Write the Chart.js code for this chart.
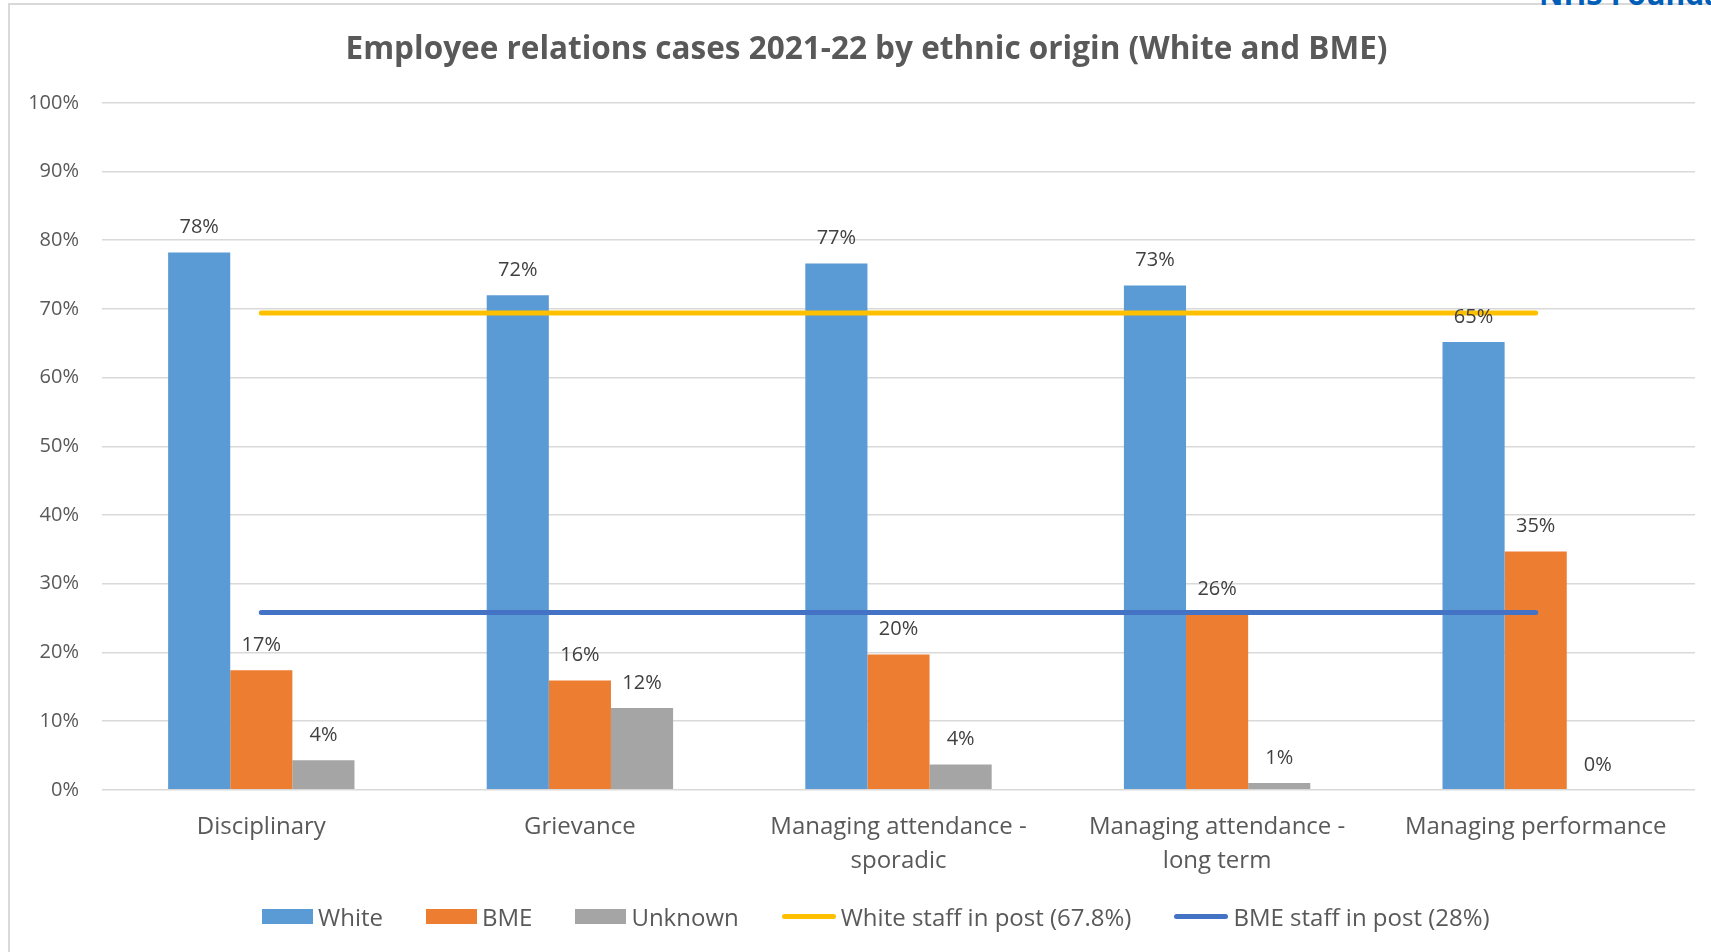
<!DOCTYPE html>
<html>
<head>
<meta charset="utf-8">
<script src="https://cdn.jsdelivr.net/npm/chart.js@4.4.0/dist/chart.umd.min.js"></script>
<style>
html,body{margin:0;padding:0;background:#fff;width:1711px;height:952px;overflow:hidden;font-family:"Open Sans",sans-serif;}
#frame{position:absolute;left:8px;top:3px;width:1760px;height:1000px;border-left:2px solid #D9D9D9;border-top:2px solid #D9D9D9;box-sizing:border-box;}
#brand{position:absolute;left:1539px;top:-27px;font-weight:bold;font-size:30px;color:#005EB8;white-space:nowrap;}
#wrap{position:absolute;left:0;top:0;width:1711px;height:952px;}
#legend{position:absolute;left:262px;top:900px;height:32px;display:flex;align-items:center;color:#595959;font-size:24px;white-space:nowrap;}
#legend .item{display:flex;align-items:center;margin-right:43px;}
#legend .sw{margin-right:5px;}
</style>
</head>
<body>
<div id="frame"></div>
<div id="brand">NHS Foundation Trust</div>
<div id="wrap"><canvas id="c"></canvas></div>
<div id="legend"></div>
<script>
const categories = ['Disciplinary', 'Grievance', ['Managing attendance -', 'sporadic'], ['Managing attendance -', 'long term'], 'Managing performance'];
const whiteValues = [78.2, 72.0, 76.6, 73.4, 65.2];
const bmeValues = [17.4, 15.9, 19.7, 25.5, 34.7];
const unknownValues = [4.3, 11.9, 3.7, 1.0, 0];
const whiteStaffInPost = [69.4, 69.4, 69.4, 69.4, 69.4];
const bmeStaffInPost = [25.8, 25.8, 25.8, 25.8, 25.8];
const seriesNames = ['White', 'BME', 'Unknown', 'White staff in post (67.8%)', 'BME staff in post (28%)'];
const yMin = 0, yMax = 100, yStep = 10;

const valueLabels = {
  id: 'valueLabels',
  afterDatasetsDraw(chart) {
    const ctx = chart.ctx;
    ctx.save();
    ctx.font = '20px "Open Sans"';
    ctx.fillStyle = '#404040';
    ctx.textAlign = 'center';
    ctx.textBaseline = 'middle';
    chart.data.datasets.forEach((ds, i) => {
      if (ds.type === 'line') return;
      const meta = chart.getDatasetMeta(i);
      meta.data.forEach((bar, j) => {
        ctx.fillText(Math.round(ds.data[j]) + '%', bar.x, bar.y - 25);
      });
    });
    ctx.restore();
  }
};

const titleShift = {
  id: 'titleShift',
  afterLayout(chart) {
    const t = chart.titleBlock;
    if (t) { t.left += 19; t.right += 19; }
  }
};

const chart = new Chart(document.getElementById('c'), {
  type: 'bar',
  data: {
    labels: categories,
    datasets: [
      { label: seriesNames[0], data: whiteValues, backgroundColor: '#5B9BD5', categoryPercentage: 0.585, barPercentage: 1, order: 1 },
      { label: seriesNames[1], data: bmeValues, backgroundColor: '#ED7D31', categoryPercentage: 0.585, barPercentage: 1, order: 1 },
      { label: seriesNames[2], data: unknownValues, backgroundColor: '#A5A5A5', categoryPercentage: 0.585, barPercentage: 1, order: 1 },
      { type: 'line', label: seriesNames[3], data: whiteStaffInPost, borderColor: '#FFC000', backgroundColor: '#FFC000', borderWidth: 5, borderCapStyle: 'round', pointRadius: 0, fill: false, order: 0 },
      { type: 'line', label: seriesNames[4], data: bmeStaffInPost, borderColor: '#4472C4', backgroundColor: '#4472C4', borderWidth: 5, borderCapStyle: 'round', pointRadius: 0, fill: false, order: 0 }
    ]
  },
  options: {
    responsive: true,
    maintainAspectRatio: false,
    animation: false,
    layout: { padding: { left: 0, right: 16, top: 0, bottom: 62 } },
    plugins: {
      legend: { display: false },
      tooltip: { enabled: false },
      title: {
        display: true,
        text: 'Employee relations cases 2021-22 by ethnic origin (White and BME)',
        color: '#595959',
        font: { family: 'Open Sans', size: 31.5, weight: 'bold', lineHeight: 1.2 },
        padding: { top: 31, bottom: 34 }
      }
    },
    scales: {
      x: {
        grid: { display: false },
        border: { display: false },
        ticks: { color: '#595959', font: { family: 'Open Sans', size: 24, lineHeight: 1.42 }, padding: 12, maxRotation: 0, autoSkip: false }
      },
      y: {
        min: yMin, max: yMax,
        afterFit(scale) { scale.width = 102; },
        grid: { color: '#D9D9D9', lineWidth: 1.5, drawTicks: false },
        border: { display: false },
        ticks: { stepSize: yStep, color: '#595959', font: { family: 'Open Sans', size: 20 }, padding: 23, callback: v => v + '%' }
      }
    }
  },
  plugins: [valueLabels, titleShift]
});

// HTML legend built from the chart's datasets
const legendEl = document.getElementById('legend');
chart.data.datasets.forEach(ds => {
  const item = document.createElement('div');
  item.className = 'item';
  const sw = document.createElement('span');
  sw.className = 'sw';
  if (ds.type === 'line') {
    sw.style.cssText = 'display:inline-block;width:54px;height:5px;border-radius:3px;background:' + ds.borderColor;
  } else {
    sw.style.cssText = 'display:inline-block;width:51px;height:15px;background:' + ds.backgroundColor;
  }
  const tx = document.createElement('span');
  tx.textContent = ds.label;
  item.appendChild(sw); item.appendChild(tx);
  legendEl.appendChild(item);
});
</script>
</body>
</html>
